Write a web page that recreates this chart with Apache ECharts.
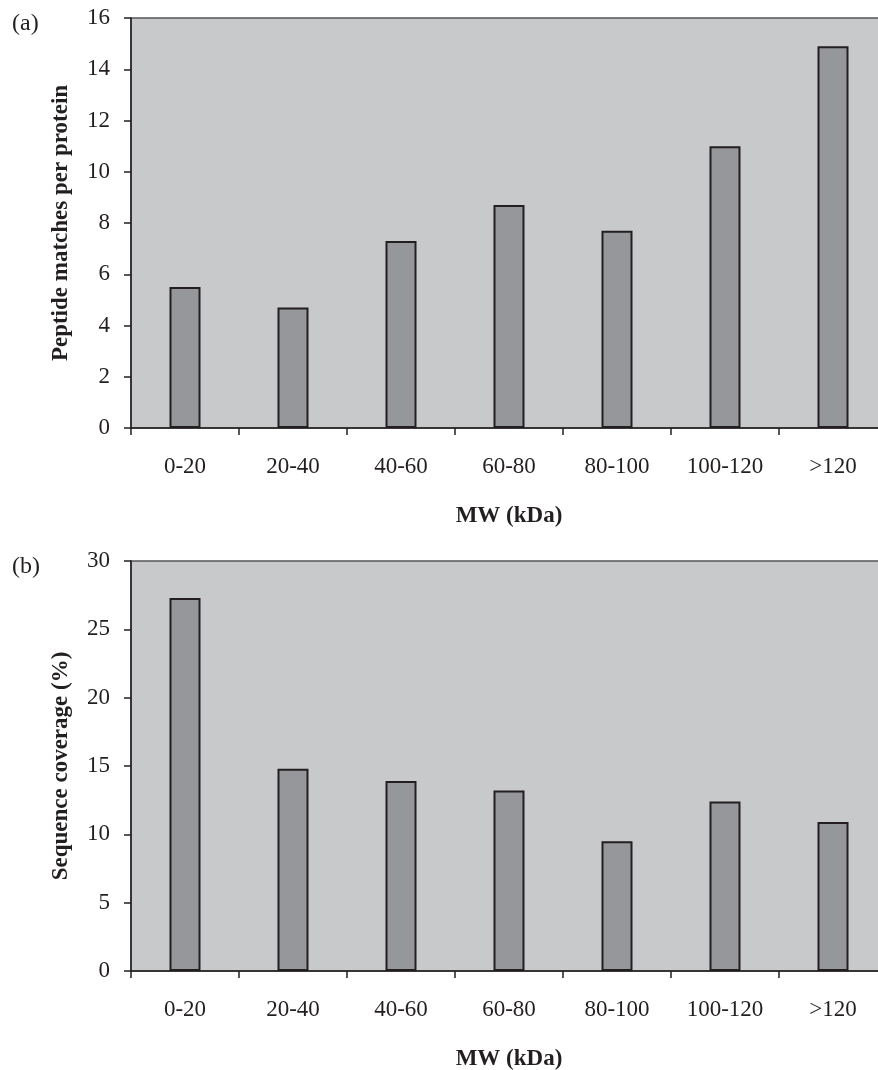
<!DOCTYPE html>
<html><head><meta charset="utf-8">
<script src="https://cdn.jsdelivr.net/npm/echarts@6/dist/echarts.min.js"></script>
<style>html,body{margin:0;padding:0;background:#fff;overflow:hidden}#c{width:878px;height:1070px}</style>
</head><body><div id="c"></div>
<script>
const categories = ['0-20','20-40','40-60','60-80','80-100','100-120','>120'];
const peptideMatches = [5.5, 4.7, 7.3, 8.7, 7.7, 11.0, 14.9];
const seqCoverage = [27.3, 14.8, 13.9, 13.2, 9.5, 12.4, 10.9];
const yTicksA = {min:0, max:16, interval:2};
const yTicksB = {min:0, max:30, interval:5};
const xTitle = 'MW (kDa)';
const yTitleA = 'Peptide matches per protein';
const yTitleB = 'Sequence coverage (%)';

const FONT = '"Liberation Serif", "Times New Roman", serif';
const chart = echarts.init(document.getElementById('c'), null, {renderer:'canvas'});
function xAxis(gi){
  return {type:'category', gridIndex:gi, data:categories, boundaryGap:true,
    axisLine:{lineStyle:{color:'#231f20', width:1.5}},
    axisTick:{show:true, length:7, inside:false, alignWithLabel:false, lineStyle:{color:'#231f20', width:1.5}},
    axisLabel:{margin:27, fontFamily:FONT, fontSize:23, color:'#231f20'},
    name:xTitle, nameLocation:'middle', nameGap:77,
    nameTextStyle:{fontFamily:FONT, fontSize:23, fontWeight:'bold', color:'#231f20'}};
}
function yAxis(gi, t, title){
  return {type:'value', gridIndex:gi, min:t.min, max:t.max, interval:t.interval,
    axisLine:{show:true, lineStyle:{color:'#231f20', width:1.5}},
    axisTick:{show:true, length:7, lineStyle:{color:'#231f20', width:1.5}},
    splitLine:{show:false},
    axisLabel:{margin:21, fontFamily:FONT, fontSize:23, color:'#231f20'},
    name:title, nameLocation:'middle', nameGap:58, nameRotate:90,
    nameTextStyle:{fontFamily:FONT, fontSize:23, fontWeight:'bold', color:'#231f20'}};
}
function bars(gi, data){
  return {type:'bar', xAxisIndex:gi, yAxisIndex:gi, data:data, barWidth:31,
    itemStyle:{color:'#96979a', borderColor:'#231f20', borderWidth:2}, animation:false};
}
chart.setOption({
  animation:false,
  backgroundColor:'#ffffff',
  graphic:[
    {type:'text', left:12, top:12, style:{text:'(a)', font:'24px '+FONT, fill:'#231f20'}},
    {type:'text', left:12, top:555, style:{text:'(b)', font:'24px '+FONT, fill:'#231f20'}}
  ],
  grid:[
    {left:131, top:18, width:756, height:410, outerBoundsMode:'none', containLabel:false, show:true, backgroundColor:'#c8c9cb', borderColor:'#555', borderWidth:1.5},
    {left:131, top:561, width:756, height:410, outerBoundsMode:'none', containLabel:false, show:true, backgroundColor:'#c8c9cb', borderColor:'#555', borderWidth:1.5}
  ],
  xAxis:[xAxis(0), xAxis(1)],
  yAxis:[yAxis(0, yTicksA, yTitleA), yAxis(1, yTicksB, yTitleB)],
  series:[bars(0, peptideMatches), bars(1, seqCoverage)]
});
</script></body></html>
